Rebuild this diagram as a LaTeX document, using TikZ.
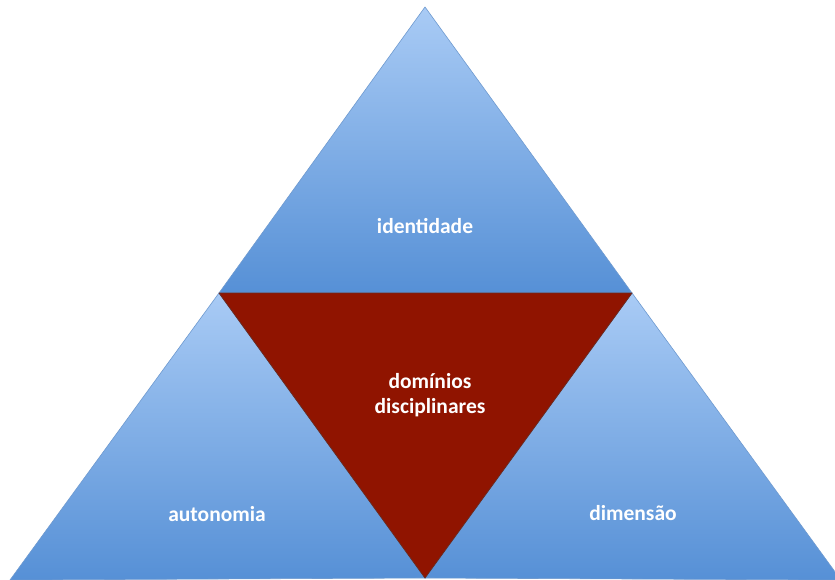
\documentclass[tikz,border=0pt]{standalone}
\usepackage{fontspec}
\setmainfont{Carlito}
\begin{document}
\begin{tikzpicture}[x=1pt,y=-1pt,
  facet/.style={top color=facetTop,bottom color=facetBottom,draw=facetEdge,line width=0.6pt,line join=round},
  core/.style={fill=coreRed,draw=coreEdge,line width=0.8pt,line join=round},
  lbl/.style={text=white,font=\bfseries\fontsize{21.5}{25}\selectfont,align=center}]
\definecolor{facetTop}{HTML}{A9CBF5}
\definecolor{facetBottom}{HTML}{5690D6}
\definecolor{facetEdge}{HTML}{6E9AD0}
\definecolor{coreRed}{HTML}{901400}
\definecolor{coreEdge}{HTML}{6A2A20}
\useasboundingbox[fill=white] (0,0) rectangle (835,580);
% corner points of the pyramid
\coordinate (apex) at (425,7);
\coordinate (ml) at (219,293);
\coordinate (mr) at (632,293);
\coordinate (bl) at (10,580);
\coordinate (bm) at (425,578);
\coordinate (br) at (841,580);
% blue facets
\draw[facet] (apex) -- (mr) -- (ml) -- cycle;
\draw[facet] (ml) -- (bm) -- (bl) -- cycle;
\draw[facet] (mr) -- (br) -- (bm) -- cycle;
% central inverted triangle
\draw[core] (ml) -- (mr) -- (bm) -- cycle;
% labels
\node[lbl] (tId) at (425,226) {identidade};
\node[lbl] (tDom) at (430,395) {domínios\\disciplinares};
\node[lbl] (tAut) at (217,514) {autonomia};
\node[lbl] (tDim) at (633,513) {dimensão};
\end{tikzpicture}
\end{document}
